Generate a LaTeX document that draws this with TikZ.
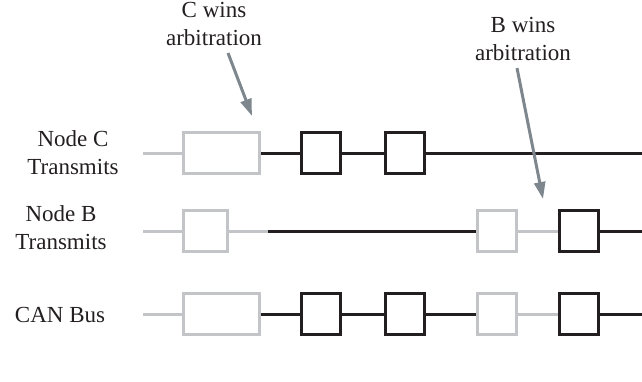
\documentclass[tikz,border=0pt]{standalone}
\usepackage{fontspec}
\setmainfont{Liberation Serif}
\usetikzlibrary{arrows.meta}
\definecolor{ink}{HTML}{231F20}
\definecolor{lite}{HTML}{C2C4C7}
\definecolor{arr}{HTML}{7D878D}
\begin{document}
\begin{tikzpicture}[x=1pt,y=-1pt,
  bx/.style={draw, line width=3pt, inner sep=0pt, outer sep=1.5pt, minimum height=41pt},
  litebox/.style={bx, draw=lite},
  darkbox/.style={bx, draw=ink},
  liteline/.style={draw=lite, line width=3pt},
  darkline/.style={draw=ink, line width=3pt},
  lbl/.style={font=\fontsize{23}{27.5}\selectfont, text=ink, align=center, inner sep=0pt, anchor=base},
  pointer/.style={draw=arr, line width=3pt, -{Triangle[length=17pt,width=11pt,fill=arr]}}]
\useasboundingbox (0,0) rectangle (642,381);

% labels
\node[lbl] (lc) at (73,174) {Node C\\Transmits};
\node[lbl] (lb) at (61,249) {Node B\\Transmits};
\node[lbl] (lcan) at (60,322) {CAN Bus};
\node[lbl] (wc) at (214,45) {C wins\\arbitration};
\node[lbl] (wb) at (523,60) {B wins\\arbitration};

% Row C
\coordinate (c0) at (143,153);
\node[litebox, minimum width=76pt] (c1) at (221.5,153) {};
\node[darkbox, minimum width=39pt] (c2) at (321,153) {};
\node[darkbox, minimum width=39pt] (c3) at (405,153) {};
\coordinate (c4) at (642,153);
\draw[liteline] (c0) -- (c1.west);
\draw[darkline] (c1.east) -- (c2.west);
\draw[darkline] (c2.east) -- (c3.west);
\draw[darkline] (c3.east) -- (c4);

% Row B
\coordinate (b0) at (143,231);
\node[litebox, minimum width=44pt] (b1) at (205.5,231) {};
\coordinate (bsw) at (268,231);
\node[litebox, minimum width=39pt] (b2) at (497,231) {};
\node[darkbox, minimum width=39pt] (b3) at (579,231) {};
\coordinate (b4) at (642,231);
\draw[liteline] (b0) -- (b1.west);
\draw[liteline] (b1.east) -- (bsw);
\draw[darkline] (bsw) -- (b2.west);
\draw[liteline] (b2.east) -- (b3.west);
\draw[darkline] (b3.east) -- (b4);

% CAN bus
\coordinate (n0) at (143,314);
\node[litebox, minimum width=76pt] (n1) at (221.5,314) {};
\node[darkbox, minimum width=39pt] (n2) at (321,314) {};
\node[darkbox, minimum width=39pt] (n3) at (405,314) {};
\node[litebox, minimum width=39pt] (n4) at (497,314) {};
\node[darkbox, minimum width=39pt] (n5) at (579,314) {};
\coordinate (n6) at (642,314);
\draw[liteline] (n0) -- (n1.west);
\draw[darkline] (n1.east) -- (n2.west);
\draw[darkline] (n2.east) -- (n3.west);
\draw[darkline] (n3.east) -- (n4.west);
\draw[liteline] (n4.east) -- (n5.west);
\draw[darkline] (n5.east) -- (n6);

% arrows
\coordinate (ct) at (228,53);
\coordinate (ch) at (252,116);
\draw[pointer] (ct) -- (ch);
\coordinate (bt) at (517,68);
\coordinate (bh) at (543,199);
\draw[pointer] (bt) -- (bh);
\end{tikzpicture}
\end{document}
